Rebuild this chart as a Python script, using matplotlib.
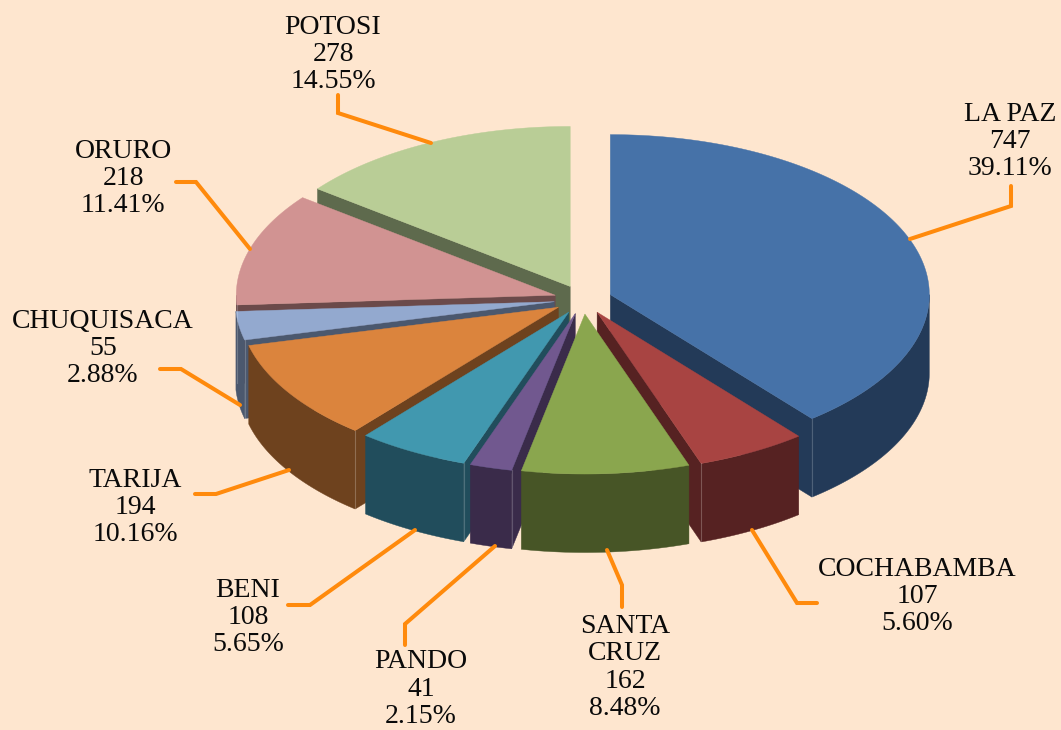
import numpy as np
import matplotlib
matplotlib.use("Agg")
import matplotlib.pyplot as plt
from matplotlib.patches import Polygon

# Data
names = ["LA PAZ", "COCHABAMBA", "SANTA\nCRUZ", "PANDO", "BENI", "TARIJA", "CHUQUISACA", "ORURO", "POTOSI"]
values = [747, 107, 162, 41, 108, 194, 55, 218, 278]
top_colors = ["#4672A8", "#A84442", "#8AA64E", "#71588F", "#4198AF", "#DB843D", "#93A9CF", "#D19392", "#B9CD96"]
side_colors = ["#233A58", "#562222", "#475526", "#3A2B4A", "#214D5C", "#6E421E", "#4B586E", "#6B4A4A", "#5E6A4D"]

# Layout, in pixels of the figure
bg = "#FEE6CF"
cx, cy = 583, 299.5
rx, ry = 319, 160
depth = 78.5
explode = 29
draw_order = [8, 0, 7, 6, 1, 5, 4, 3, 2]
label_pos = [(1010, 141.5), (917, 596.5), (625, 667.5), (421, 689), (248, 617.5), (135, 507.5), (103, 348.5), (123, 178.5), (333, 54.5)]
leaders = [
    [(1011, 186), (1011, 206), (910, 239)],
    [(817, 603), (797, 603), (752, 530)],
    [(622, 607), (622, 585), (607, 550)],
    [(405, 645), (405, 624), (495, 546)],
    [(288, 605), (310, 605), (415, 530)],
    [(195, 494), (216, 494), (289, 470)],
    [(160, 369), (181, 369), (240, 405)],
    [(176, 182), (196, 182), (250, 249)],
    [(338, 95), (338, 113), (431, 143)],
]

values = np.array(values, dtype=float)
total = values.sum()
edges = np.concatenate([[0], np.cumsum(values) / total * 360])


def ring(x0, y0, a0, a1, dz=0):
    a = np.radians(np.linspace(a0, a1, max(int(a1 - a0) * 2, 2)))
    return np.column_stack([x0 + rx * np.sin(a), y0 - ry * np.cos(a) + dz])


fig = plt.figure(figsize=(10.61, 7.3), dpi=100, facecolor=bg)
ax = fig.add_axes([0, 0, 1, 1])
ax.set_xlim(0, 1061)
ax.set_ylim(730, 0)
ax.axis("off")

for i in draw_order:
    a0, a1 = edges[i], edges[i + 1]
    mid = np.radians((a0 + a1) / 2)
    x0 = cx + explode * np.sin(mid)
    y0 = cy - explode * ry / rx * np.cos(mid)
    top = ring(x0, y0, a0, a1)

    # radial cut faces that look towards the viewer
    faces = []
    if np.sin(np.radians(a1)) > 0:
        faces.append(top[-1])
    if np.sin(np.radians(a0)) < 0:
        faces.append(top[0])
    for p in faces:
        quad = [(x0, y0), p, (p[0], p[1] + depth), (x0, y0 + depth)]
        ax.add_patch(Polygon(quad, fc=side_colors[i], ec=side_colors[i], lw=0.3))

    # outer wall, front half only
    s0, s1 = max(a0, 90), min(a1, 270)
    if s1 > s0:
        arc = ring(x0, y0, s0, s1)
        wall = np.vstack([arc, (arc + [0, depth])[::-1]])
        ax.add_patch(Polygon(wall, fc=side_colors[i], ec=side_colors[i], lw=0.3))

    # thin light seam where a cut face meets the wall
    for p in faces:
        if p[1] > y0:
            ax.plot([p[0], p[0]], [p[1], p[1] + depth], color="#FFFFFF", alpha=0.2, lw=0.8)

    ax.add_patch(Polygon(np.vstack([[x0, y0], top]), fc=top_colors[i], ec=top_colors[i], lw=0.3))

for pts in leaders:
    xs, ys = zip(*pts)
    ax.plot(xs, ys, color="#FF8A0C", lw=2.9, solid_capstyle="round", solid_joinstyle="miter")

for name, v, (x, y) in zip(names, values, label_pos):
    txt = f"{name}\n{int(v)}\n{v / total * 100:.2f}%"
    ax.text(x, y, txt, ha="center", va="center", family="Liberation Serif",
            fontsize=20, color="#0A0A0A", linespacing=1.12)

fig.savefig("out.png", dpi=100, facecolor=bg)
